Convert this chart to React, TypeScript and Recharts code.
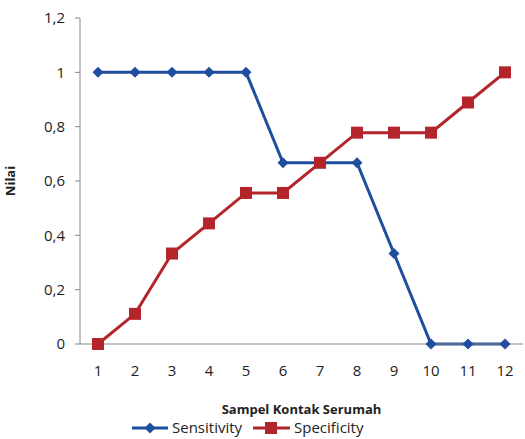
import { LineChart, Line, XAxis, YAxis, Label } from "recharts";

const categories = ["1", "2", "3", "4", "5", "6", "7", "8", "9", "10", "11", "12"];
const sensitivity = [1, 1, 1, 1, 1, 0.667, 0.667, 0.667, 0.333, 0, 0, 0];
const specificity = [0, 0.111, 0.333, 0.444, 0.556, 0.556, 0.667, 0.778, 0.778, 0.778, 0.889, 1];
const yTicks = [0, 0.2, 0.4, 0.6, 0.8, 1, 1.2];

const BLUE = "#1F4E9F";
const RED = "#B3252A";
const FONT = "'Open Sans', sans-serif";

const data = categories.map((c, i) => ({
  name: c,
  Sensitivity: sensitivity[i],
  Specificity: specificity[i],
}));

const Diamond = (props: any) => {
  const { cx, cy } = props;
  if (cx == null || cy == null) return null;
  const r = 5.5;
  return <path d={`M${cx},${cy - r}L${cx + r},${cy}L${cx},${cy + r}L${cx - r},${cy}Z`} fill={BLUE} />;
};

const Square = (props: any) => {
  const { cx, cy } = props;
  if (cx == null || cy == null) return null;
  const s = 12;
  return <rect x={cx - s / 2} y={cy - s / 2} width={s} height={s} fill={RED} />;
};

const LegendBox = () => (
  <svg width={260} height={18} style={{ position: "absolute", left: 132, top: 419, overflow: "visible" }}>
    <line x1={0} y1={9} x2={36} y2={9} stroke={BLUE} strokeWidth={3} />
    <path d="M18,3.5L23.5,9L18,14.5L12.5,9Z" fill={BLUE} />
    <text x={40} y={14} fontSize={15} fontFamily={FONT} fill="#222">Sensitivity</text>
    <line x1={121} y1={9} x2={158} y2={9} stroke={RED} strokeWidth={3} />
    <rect x={133} y={3} width={12} height={12} fill={RED} />
    <text x={162} y={14} fontSize={15} fontFamily={FONT} fill="#222">Specificity</text>
  </svg>
);

export default function App() {
  return (
    <div style={{ position: "absolute", left: 0, top: 0, width: 525, height: 439, background: "#fff" }}>
      <LineChart width={525} height={439} data={data} margin={{ top: 18, right: 2, bottom: 65, left: 0 }}>
        <XAxis
          dataKey="name"
          padding={{ left: 18, right: 18 }}
          tickLine={false}
          tickMargin={15}
          height={30}
          axisLine={{ stroke: "#888" }}
          tick={{ fill: "#222", fontSize: 15, fontFamily: FONT }}
        >
          <Label
            value="Sampel Kontak Serumah"
            position="insideBottom"
            offset={-40}
            style={{ fontSize: 13, fontWeight: "bold", fontFamily: FONT, fill: "#222" }}
          />
        </XAxis>
        <YAxis
          width={80}
          domain={[0, 1.2]}
          ticks={yTicks}
          tickSize={5}
          tickMargin={10}
          axisLine={{ stroke: "#888" }}
          tickLine={{ stroke: "#888" }}
          tickFormatter={(v: number) => String(v).replace(".", ",")}
          tick={{ fill: "#222", fontSize: 15, fontFamily: FONT }}
        >
          <Label
            value="Nilai"
            angle={-90}
            position="insideLeft"
            offset={10}
            style={{ fontSize: 13, fontWeight: "bold", fontFamily: FONT, fill: "#222", textAnchor: "middle" }}
          />
        </YAxis>
        <Line
          dataKey="Sensitivity"
          stroke={BLUE}
          strokeWidth={3}
          dot={<Diamond />}
          activeDot={false}
          isAnimationActive={false}
        />
        <Line
          dataKey="Specificity"
          stroke={RED}
          strokeWidth={3}
          dot={<Square />}
          activeDot={false}
          isAnimationActive={false}
        />
      </LineChart>
      <LegendBox />
    </div>
  );
}
